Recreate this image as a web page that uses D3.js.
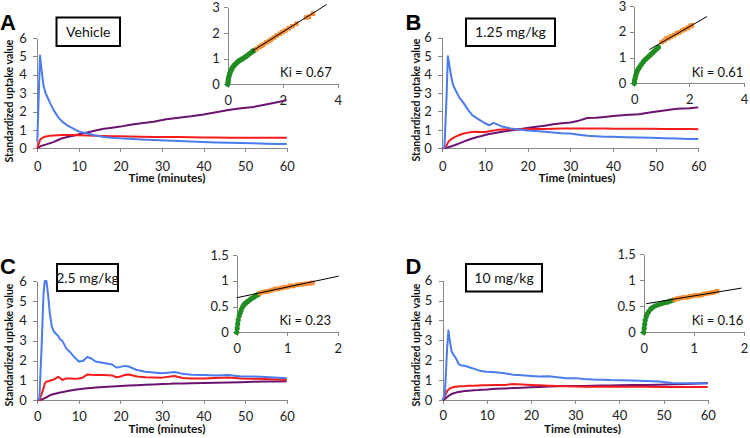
<!DOCTYPE html>
<html>
<head>
<meta charset="utf-8">
<script src="https://cdnjs.cloudflare.com/ajax/libs/d3/7.8.5/d3.min.js"></script>
<style>
  body { margin: 0; background: #fff; }
  svg { display: block; font-family: Lato, "Open Sans", sans-serif; }
  .axis path, .axis line { stroke: #888; stroke-width: 1; shape-rendering: crispEdges; }
  .axis text { fill: #222; font-family: Lato, "Open Sans", sans-serif; }
</style>
</head>
<body>
<svg id="chart" width="750" height="438"></svg>
<script>

// ---- time activity curves (minutes, SUV) ----
var timeA   = [0, 0.65, 1, 1.5, 2, 2.5, 3, 4, 5, 6, 7, 8, 9, 10, 12, 14, 16, 18, 20, 22, 25, 28, 31, 34, 37, 40, 43, 46, 49, 52, 55, 58, 60];
var blueA   = [0.35, 5.05, 4.3, 3.4, 3.0, 2.75, 2.5, 2.05, 1.7, 1.45, 1.28, 1.15, 1.03, 0.92, 0.8, 0.7, 0.62, 0.57, 0.54, 0.52, 0.48, 0.45, 0.43, 0.4, 0.37, 0.34, 0.32, 0.3, 0.29, 0.27, 0.25, 0.24, 0.23];
var redA    = [0, 0.45, 0.54, 0.6, 0.64, 0.66, 0.68, 0.7, 0.71, 0.72, 0.72, 0.72, 0.72, 0.71, 0.7, 0.68, 0.67, 0.66, 0.65, 0.64, 0.63, 0.62, 0.61, 0.61, 0.6, 0.59, 0.59, 0.58, 0.58, 0.58, 0.58, 0.58, 0.58];
var purpleA = [0, 0.1, 0.13, 0.17, 0.2, 0.24, 0.27, 0.35, 0.45, 0.55, 0.6, 0.65, 0.7, 0.76, 0.86, 0.97, 1.06, 1.12, 1.18, 1.27, 1.36, 1.45, 1.58, 1.66, 1.74, 1.84, 1.96, 2.08, 2.18, 2.25, 2.38, 2.52, 2.62];

var timeB   = [0, 0.5, 1, 1.3, 1.6, 2, 2.5, 3, 4, 5, 6, 7, 8, 9, 10, 11, 12, 13, 14, 16, 18, 20, 22, 24, 26, 28, 30, 32, 34, 36, 38, 40, 43, 46, 49, 52, 55, 58, 60];
var blueB   = [0, 0.05, 2.8, 5.0, 4.6, 4.0, 3.45, 3.2, 2.75, 2.45, 2.1, 1.8, 1.65, 1.5, 1.36, 1.25, 1.38, 1.28, 1.18, 1.08, 1.02, 0.97, 0.94, 0.9, 0.86, 0.82, 0.8, 0.74, 0.68, 0.65, 0.63, 0.62, 0.6, 0.59, 0.57, 0.55, 0.53, 0.51, 0.5];
var redB    = [0, 0.02, 0.15, 0.3, 0.4, 0.48, 0.55, 0.62, 0.72, 0.8, 0.85, 0.88, 0.9, 0.88, 0.88, 0.93, 0.97, 1.0, 1.02, 1.03, 1.04, 1.05, 1.05, 1.05, 1.06, 1.07, 1.07, 1.07, 1.07, 1.07, 1.07, 1.06, 1.06, 1.06, 1.06, 1.05, 1.05, 1.05, 1.04];
var purpleB = [0, 0.01, 0.03, 0.05, 0.07, 0.1, 0.14, 0.18, 0.27, 0.36, 0.45, 0.53, 0.6, 0.65, 0.72, 0.78, 0.82, 0.86, 0.9, 0.97, 1.03, 1.1, 1.17, 1.22, 1.3, 1.36, 1.4, 1.5, 1.64, 1.66, 1.7, 1.75, 1.8, 1.85, 1.95, 2.05, 2.15, 2.17, 2.22];

var timeC   = [0, 0.5, 1, 1.5, 1.8, 2.2, 2.6, 3, 3.5, 4, 5, 5.5, 6, 7, 8, 9, 10, 11, 12, 13, 14, 16, 18, 19, 20, 21, 22, 24, 26, 28, 30, 32, 33, 35, 37, 40, 43, 46, 49, 52, 55, 58, 60];
var blueC   = [0, 0.1, 2.5, 5.4, 6.0, 6.0, 5.3, 4.4, 3.7, 3.45, 3.25, 3.05, 3.0, 2.6, 2.4, 2.15, 1.95, 1.98, 2.18, 2.1, 1.95, 1.88, 1.8, 1.65, 1.68, 1.73, 1.7, 1.52, 1.44, 1.4, 1.36, 1.4, 1.42, 1.33, 1.29, 1.27, 1.25, 1.27, 1.2, 1.2, 1.17, 1.14, 1.11];
var redC    = [0, 0.02, 0.3, 0.6, 0.85, 0.94, 0.95, 0.98, 1.02, 1.05, 1.18, 1.12, 1.02, 1.1, 1.1, 1.08, 1.1, 1.15, 1.3, 1.28, 1.27, 1.27, 1.25, 1.16, 1.2, 1.27, 1.3, 1.2, 1.16, 1.15, 1.14, 1.2, 1.22, 1.12, 1.1, 1.1, 1.12, 1.15, 1.1, 1.08, 1.07, 1.05, 1.03];
var purpleC = [0, 0.01, 0.04, 0.08, 0.11, 0.15, 0.2, 0.25, 0.29, 0.32, 0.37, 0.39, 0.41, 0.45, 0.49, 0.53, 0.56, 0.58, 0.6, 0.62, 0.64, 0.67, 0.7, 0.71, 0.72, 0.73, 0.74, 0.76, 0.78, 0.8, 0.82, 0.83, 0.84, 0.85, 0.86, 0.87, 0.88, 0.9, 0.91, 0.93, 0.94, 0.95, 0.96];

var timeD   = [0, 0.5, 1, 1.3, 1.6, 2, 2.5, 3, 3.5, 4, 5, 6, 7, 8, 9, 10, 12, 14, 16, 18, 20, 22, 24, 26, 28, 30, 32, 34, 36, 38, 40, 43, 46, 49, 52, 55, 58, 60];
var blueD   = [0, 0.3, 2.6, 3.5, 3.0, 2.45, 2.25, 2.1, 1.85, 1.75, 1.72, 1.65, 1.58, 1.5, 1.45, 1.42, 1.4, 1.35, 1.27, 1.24, 1.21, 1.18, 1.2, 1.14, 1.09, 1.1, 1.06, 1.03, 1.02, 1.0, 0.99, 0.98, 0.96, 0.93, 0.86, 0.84, 0.84, 0.83];
var redD    = [0, 0.2, 0.45, 0.52, 0.58, 0.62, 0.65, 0.67, 0.68, 0.69, 0.7, 0.72, 0.72, 0.73, 0.74, 0.74, 0.75, 0.76, 0.8, 0.78, 0.76, 0.74, 0.72, 0.7, 0.69, 0.68, 0.67, 0.67, 0.67, 0.67, 0.67, 0.67, 0.67, 0.66, 0.66, 0.65, 0.65, 0.65];
var purpleD = [0, 0.05, 0.15, 0.2, 0.25, 0.3, 0.34, 0.37, 0.4, 0.42, 0.45, 0.47, 0.49, 0.5, 0.52, 0.53, 0.56, 0.58, 0.6, 0.62, 0.64, 0.66, 0.68, 0.69, 0.7, 0.7, 0.71, 0.72, 0.73, 0.73, 0.74, 0.75, 0.76, 0.77, 0.79, 0.81, 0.83, 0.85];

// ---- Patlak insets: [x, y] ----
var greenA  = [[0,0],[0.01,0.08],[0.02,0.16],[0.03,0.24],[0.05,0.32],[0.07,0.4],[0.09,0.47],[0.12,0.54],[0.15,0.6],[0.18,0.66],[0.22,0.72],[0.26,0.77],[0.31,0.82],[0.36,0.87],[0.42,0.92],[0.48,0.96],[0.54,1.0],[0.6,1.04],[0.66,1.08],[0.72,1.13],[0.78,1.18],[0.84,1.23],[0.9,1.28],[0.96,1.32]];
var orangeA = [[1.05,1.38],[1.15,1.45],[1.22,1.5],[1.3,1.55],[1.4,1.63],[1.5,1.68],[1.58,1.75],[1.68,1.82],[1.78,1.9],[1.9,1.97],[2.0,2.04],[2.1,2.1],[2.22,2.18],[2.35,2.26],[2.5,2.36],[2.85,2.6],[2.95,2.63],[3.1,2.75]];
var fitA    = [[0.9,1.3],[3.6,3.11]];

var greenB  = [[0,0],[0.01,0.1],[0.03,0.2],[0.05,0.3],[0.08,0.4],[0.11,0.48],[0.15,0.56],[0.2,0.64],[0.26,0.74],[0.33,0.84],[0.4,0.92],[0.47,0.99],[0.54,1.06],[0.61,1.13],[0.68,1.2],[0.75,1.27],[0.82,1.34],[0.88,1.4]];
var orangeB = [[1.0,1.6],[1.1,1.66],[1.18,1.74],[1.25,1.76],[1.35,1.82],[1.45,1.87],[1.55,1.94],[1.65,1.98],[1.75,2.05],[1.85,2.1],[1.95,2.16],[2.05,2.22],[2.1,2.25]];
var fitB    = [[0.55,1.31],[2.65,2.59]];

var greenC  = [[0,0],[0.01,0.08],[0.02,0.16],[0.03,0.24],[0.05,0.32],[0.07,0.38],[0.09,0.44],[0.12,0.5],[0.15,0.54],[0.18,0.57],[0.22,0.6],[0.26,0.63],[0.3,0.66],[0.34,0.68],[0.38,0.71],[0.42,0.73]];
var orangeC = [[0.46,0.76],[0.52,0.78],[0.58,0.79],[0.64,0.8],[0.7,0.82],[0.76,0.84],[0.82,0.84],[0.88,0.86],[0.94,0.87],[1.0,0.88],[1.06,0.9],[1.12,0.9],[1.2,0.92],[1.28,0.93],[1.36,0.94],[1.44,0.95],[1.5,0.96]];
var fitC    = [[0,0.67],[2.02,1.09]];

var greenD  = [[0,0],[0.01,0.08],[0.02,0.16],[0.03,0.23],[0.05,0.3],[0.07,0.35],[0.1,0.4],[0.14,0.45],[0.18,0.48],[0.23,0.51],[0.29,0.53],[0.35,0.55],[0.41,0.57],[0.47,0.58],[0.53,0.6],[0.59,0.62]];
var orangeD = [[0.62,0.63],[0.68,0.65],[0.74,0.66],[0.8,0.67],[0.86,0.67],[0.92,0.69],[0.98,0.7],[1.04,0.71],[1.1,0.71],[1.16,0.72],[1.22,0.74],[1.28,0.75],[1.34,0.76],[1.4,0.77],[1.46,0.79]];
var fitD    = [[0.05,0.55],[1.95,0.85]];

// ---- labels and ticks ----
var panelLetters = ["A", "B", "C", "D"];
var doseLabels   = ["Vehicle", "1.25 mg/kg", "2.5 mg/kg", "10 mg/kg"];
var kiLabels     = ["Ki = 0.67", "Ki = 0.61", "Ki = 0.23", "Ki = 0.16"];
var xTitles      = ["Time (minutes)", "Time (mintues)", "Time (minutes)", "Time (minutes)"];
var yTitle       = "Standardized uptake value";
var mainXTicks   = [0, 10, 20, 30, 40, 50, 60];
var mainYTicks   = [0, 1, 2, 3, 4, 5, 6];
var insetXTicksAB = [0, 2, 4];
var insetYTicksAB = [0, 1, 2, 3];
var insetXTicksCD = [0, 1, 2];
var insetYTicksCD = [0, 0.5, 1, 1.5];

var COLORS = { blue: "#4a7cf0", red: "#f41c1c", purple: "#6c1270", green: "#218c21", orange: "#f58c30" };

// layout (pixels), one entry per panel
var panels = [
  { t: timeA, s: [blueA, redA, purpleA], green: greenA, orange: orangeA, fit: fitA,
    xt: insetXTicksAB, yt: insetYTicksAB,
    main: { x0: 37.3, x1: 286.7, y0: 148.3, y1: 38, xpad: 9 },
    inset: { x0: 227.7, x1: 337.7, y0: 84.3, y1: 7.3, kx: 331.7, ky: 77 },
    letter: [0, 29.5], box: [56.5, 17.5, 63.5, 28.5], yt_pos: [13, 101], xt_pos: [167, 182] },
  { t: timeB, s: [blueB, redB, purpleB], green: greenB, orange: orangeB, fit: fitB,
    xt: insetXTicksAB, yt: insetYTicksAB,
    main: { x0: 442.3, x1: 698.3, y0: 148.3, y1: 37.7, xpad: 9 },
    inset: { x0: 634.3, x1: 744, y0: 83.3, y1: 6, kx: 743.3, ky: 77 },
    letter: [405.5, 29.5], box: [466, 18.5, 89, 27.5], yt_pos: [419.5, 100], xt_pos: [577, 182] },
  { t: timeC, s: [blueC, redC, purpleC], green: greenC, orange: orangeC, fit: fitC,
    xt: insetXTicksCD, yt: insetYTicksCD,
    main: { x0: 37.3, x1: 286.7, y0: 400.3, y1: 281, xpad: 7 },
    inset: { x0: 236.7, x1: 337.7, y0: 332.3, y1: 255, kx: 331, ky: 325 },
    letter: [0, 273.5], box: [57, 264, 61, 27], yt_pos: [13, 345], xt_pos: [167, 433] },
  { t: timeD, s: [blueD, redD, purpleD], green: greenD, orange: orangeD, fit: fitD,
    xt: insetXTicksCD, yt: insetYTicksCD,
    main: { x0: 442.7, x1: 707.7, y0: 400, y1: 280.7, xpad: 7 },
    inset: { x0: 643.7, x1: 744, y0: 332.3, y1: 254.3, kx: 743.3, ky: 325 },
    letter: [405.5, 274], box: [466, 264, 76, 27.5], yt_pos: [419.5, 345], xt_pos: [582.5, 433] }
];

var svg = d3.select("#chart");
var plain = d3.format("");

function drawInset(g, p) {
  var L = p.inset;
  var xmax = p.xt[p.xt.length - 1], ymax = p.yt[p.yt.length - 1];
  var x = d3.scaleLinear().domain([0, xmax]).range([L.x0, L.x1]);
  var y = d3.scaleLinear().domain([0, ymax]).range([L.y0, L.y1]);

  g.append("g").attr("class", "axis")
    .attr("transform", "translate(0," + L.y0 + ")")
    .call(d3.axisBottom(x).tickValues(p.xt).tickFormat(plain).tickSize(4).tickSizeOuter(0).tickPadding(7.3))
    .selectAll("text").style("font-size", "13px");
  g.append("g").attr("class", "axis")
    .attr("transform", "translate(" + L.x0 + ",0)")
    .call(d3.axisLeft(y).tickValues(p.yt).tickFormat(plain).tickSize(4).tickSizeOuter(0).tickPadding(4))
    .selectAll("text").style("font-size", "13px");

  g.append("g").selectAll("circle").data(p.green).enter().append("circle")
    .attr("cx", function(d) { return x(d[0]); })
    .attr("cy", function(d) { return y(d[1]); })
    .attr("r", 2.6)
    .style("fill", COLORS.green);

  g.append("g").selectAll("rect").data(p.orange).enter().append("rect")
    .attr("x", function(d) { return x(d[0]) - 2.3; })
    .attr("y", function(d) { return y(d[1]) - 2.3; })
    .attr("width", 4.6).attr("height", 4.6)
    .style("fill", COLORS.orange);

  g.append("path")
    .datum(p.fit)
    .attr("d", d3.line().x(function(d) { return x(d[0]); }).y(function(d) { return y(d[1]); }))
    .style("fill", "none").style("stroke", "#000").style("stroke-width", 1);

  g.append("text")
    .attr("x", L.kx).attr("y", L.ky)
    .attr("text-anchor", "end")
    .style("font-size", "13px").style("fill", "#111")
    .text(kiLabels[p.idx]);
}

function drawMain(g, p) {
  var L = p.main;
  var x = d3.scaleLinear().domain([0, 60]).range([L.x0, L.x1]);
  var y = d3.scaleLinear().domain([0, 6]).range([L.y0, L.y1]);

  g.append("g").attr("class", "axis")
    .attr("transform", "translate(0," + L.y0 + ")")
    .call(d3.axisBottom(x).tickValues(mainXTicks).tickFormat(plain).tickSize(4).tickSizeOuter(0).tickPadding(L.xpad))
    .selectAll("text").style("font-size", "13px");
  g.append("g").attr("class", "axis")
    .attr("transform", "translate(" + L.x0 + ",0)")
    .call(d3.axisLeft(y).tickValues(mainYTicks).tickFormat(plain).tickSize(4).tickSizeOuter(0).tickPadding(6.5))
    .selectAll("text").style("font-size", "13px");

  var line = d3.line()
    .x(function(d, i) { return x(p.t[i]); })
    .y(function(d) { return y(d); });
  var cols = [COLORS.blue, COLORS.red, COLORS.purple];
  // purple drawn first, blue last
  [2, 1, 0].forEach(function(k) {
    g.append("path").datum(p.s[k])
      .attr("d", line)
      .style("fill", "none")
      .style("stroke", cols[k])
      .style("stroke-width", 2)
      .style("stroke-linejoin", "round");
  });

  g.append("text")
    .attr("transform", "translate(" + p.yt_pos[0] + "," + p.yt_pos[1] + ") rotate(-90)")
    .attr("text-anchor", "middle")
    .attr("textLength", 123).attr("lengthAdjust", "spacingAndGlyphs")
    .style("font-size", "11px").style("font-weight", "bold").style("fill", "#111")
    .text(yTitle);
  g.append("text")
    .attr("x", p.xt_pos[0]).attr("y", p.xt_pos[1])
    .attr("text-anchor", "middle")
    .attr("textLength", 77).attr("lengthAdjust", "spacingAndGlyphs")
    .style("font-size", "12px").style("font-weight", "bold").style("fill", "#111")
    .text(xTitles[p.idx]);
}

panels.forEach(function(p, i) {
  p.idx = i;
  var g = svg.append("g");

  g.append("text")
    .attr("x", p.letter[0]).attr("y", p.letter[1])
    .style("font-family", "'Liberation Sans', Arial, sans-serif")
    .style("font-size", "22px").style("font-weight", "bold").style("fill", "#000")
    .text(panelLetters[i]);

  g.append("rect")
    .attr("x", p.box[0]).attr("y", p.box[1])
    .attr("width", p.box[2]).attr("height", p.box[3])
    .style("fill", "#fff").style("stroke", "#000").style("stroke-width", 2);
  g.append("text")
    .attr("x", p.box[0] + p.box[2] / 2).attr("y", p.box[1] + p.box[3] / 2 + 5)
    .attr("text-anchor", "middle")
    .style("font-size", "14px").style("fill", "#111")
    .text(doseLabels[i]);

  drawInset(g.append("g"), p);
  drawMain(g.append("g"), p);
});

</script>
</body>
</html>
